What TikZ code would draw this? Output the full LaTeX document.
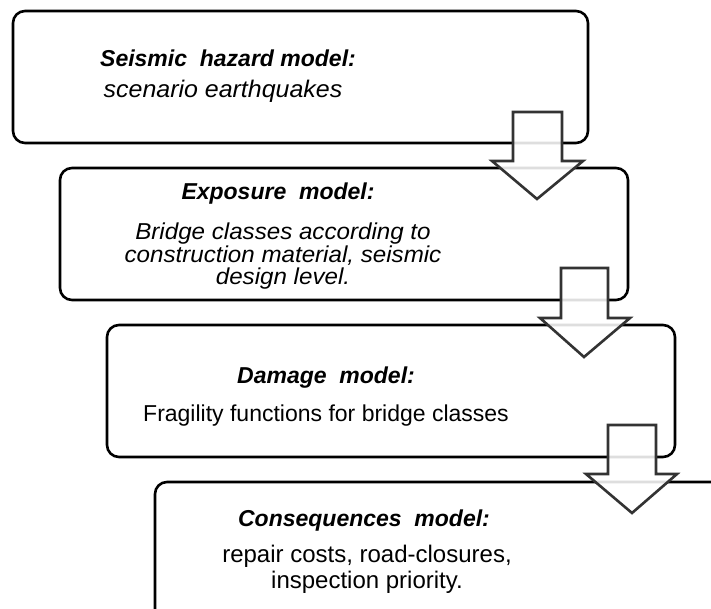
\documentclass[tikz,border=0pt]{standalone}
\usepackage{fontspec}
\setmainfont{Liberation Sans}
\begin{document}
\begin{tikzpicture}[x=1pt,y=-1pt,
  box/.style={draw=black, line width=2.6pt, rounded corners=12pt, fill=white, inner sep=0pt},
  blockarrow/.style={draw=black!80, line width=2.6pt, fill=white, fill opacity=0.87, line join=miter},
  ttl/.style={font=\fontsize{23}{24}\selectfont\bfseries\itshape, inner sep=0pt, anchor=base},
  txt/.style={font=\fontsize{23}{26}\selectfont, inner sep=0pt, align=center, anchor=base}
]
\useasboundingbox (0,0) rectangle (711,609);
\clip (0,0) rectangle (711,609);
% boxes
\draw[box] (13,11) rectangle (588,143);
\draw[box] (60,168) rectangle (628,300);
\draw[box] (107,325) rectangle (675,457);
\draw[box] (155,482) rectangle (780,640);
% texts
\node[ttl] (t1) at (228,67) {Seismic\ \ hazard model:};
\node[txt, font=\fontsize{24}{26}\selectfont\itshape, xscale=1.04] (s1) at (223,98) {scenario earthquakes};
\node[ttl] (t2) at (278,200) {Exposure\ \ model:};
% multi-line nodes: base anchor = baseline of last line
\node[txt, font=\fontsize{23}{22}\selectfont\itshape, xscale=1.05] (s2) at (283,284) {Bridge classes according to\\construction material, seismic\\design level.};
\node[ttl] (t3) at (326,383) {Damage\ \ model:};
\node[txt] (s3) at (326,421) {Fragility functions for bridge classes};
\node[ttl] (t4) at (364,526) {Consequences\ \ model:};
\node[txt, font=\fontsize{24}{26}\selectfont] (s4) at (367,588) {repair costs, road-closures,\\inspection priority.};
% block arrows
\draw[blockarrow] (513,112) -- (562,112) -- (562,161) -- (583,161) -- (537,199) -- (492,161) -- (513,161) -- cycle;
\draw[blockarrow] (561,268) -- (608,268) -- (608,318) -- (630,318) -- (584,357) -- (540,318) -- (561,318) -- cycle;
\draw[blockarrow] (608,425) -- (656,425) -- (656,474) -- (677,474) -- (632,513) -- (586,474) -- (608,474) -- cycle;
\end{tikzpicture}
\end{document}
